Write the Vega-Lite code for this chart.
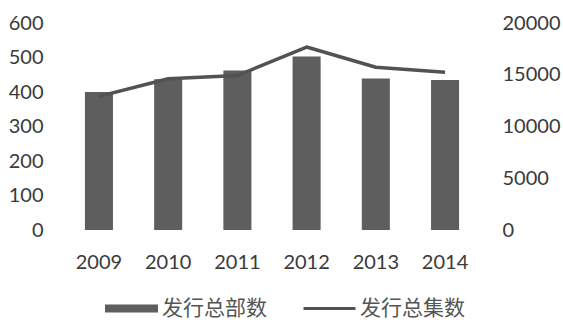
{
  "$schema": "https://vega.github.io/schema/vega-lite/v6.json",
  "autosize": {"type": "none"},
  "padding": {"left": 60, "top": 23, "right": 79, "bottom": 92},
  "width": 424,
  "height": 207,
  "background": "white",
  "data": {
    "values": [
      {"year": "2009", "parts": 400, "episodes": 12910},
      {"year": "2010", "parts": 437, "episodes": 14620},
      {"year": "2011", "parts": 462, "episodes": 14920},
      {"year": "2012", "parts": 503, "episodes": 17680},
      {"year": "2013", "parts": 439, "episodes": 15720},
      {"year": "2014", "parts": 435, "episodes": 15230}
    ]
  },
  "config": {
    "view": {"stroke": null},
    "font": "Lato",
    "axis": {"domain": false, "ticks": false, "grid": false, "labelFont": "Lato", "labelFontSize": 20, "labelColor": "#3a3a3a", "title": null}
  },
  "encoding": {
    "x": {"field": "year", "type": "ordinal", "scale": {"paddingInner": 0.595, "paddingOuter": 0.36}, "axis": {"labelAngle": 0, "labelPadding": 22}}
  },
  "layer": [
    {
      "mark": {"type": "bar"},
      "encoding": {
        "y": {"field": "parts", "type": "quantitative", "scale": {"domain": [0, 600]}, "axis": {"orient": "left", "values": [0, 100, 200, 300, 400, 500, 600], "labelPadding": 17}},
        "fill": {"datum": "发行总部数", "type": "nominal", "scale": {"range": ["#5e5e5e"]}, "legend": {"orient": "none", "legendX": 61, "legendY": 275, "padding": 0, "title": null, "symbolType": "M-5.3,-0.8H5.3V0.8H-5.3Z", "symbolSize": 100, "symbolStrokeWidth": 0, "symbolFillColor": "#6a6a6a", "labelOffset": 20, "labelFontSize": 21, "labelFont": "Noto Sans CJK SC", "labelColor": "#555"}}
      }
    },
    {
      "mark": {"type": "line", "strokeWidth": 3.5, "strokeJoin": "round", "color": "#525252"},
      "encoding": {
        "y": {"field": "episodes", "type": "quantitative", "scale": {"domain": [0, 20000]}, "axis": {"orient": "right", "values": [0, 5000, 10000, 15000, 20000], "format": "d", "labelPadding": 18}},
        "stroke": {"datum": "发行总集数", "type": "nominal", "scale": {"range": ["#525252"]}, "legend": {"orient": "none", "legendX": 259, "legendY": 275, "padding": 0, "title": null, "symbolType": "M-5.2,0H5.2", "symbolSize": 100, "symbolStrokeWidth": 3, "labelOffset": 20, "labelFontSize": 21, "labelFont": "Noto Sans CJK SC", "labelColor": "#555"}}
      }
    }
  ],
  "resolve": {"scale": {"y": "independent", "fill": "independent", "stroke": "independent"}}
}
